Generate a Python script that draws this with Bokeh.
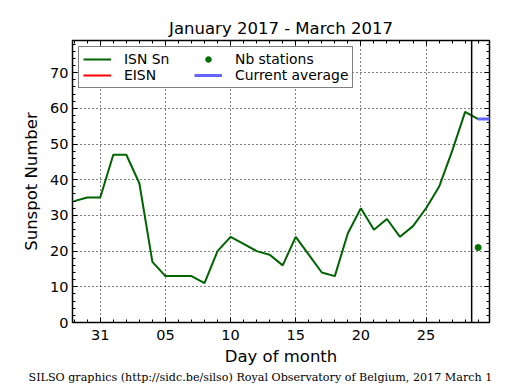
from bokeh.plotting import figure
from bokeh.models import (FixedTicker, LinearAxis, Span, Legend, LegendItem, Title, Range1d)
from bokeh.embed import file_html
from bokeh.resources import INLINE

nan = float("nan")

# Data: x = days after 31 January 2017
days = [-2, -1, 0, 1, 2, 3, 4, 5, 6, 7, 8, 9, 10, 11, 12, 13, 14, 15, 16,
        17, 18, 19, 20, 21, 22, 23, 24, 25, 26, 27, 28, 29]
isn_sn = [34, 35, 35, 47, 47, 39, 17, 13, 13, 13, 11, 20, 24, 22, 20, 19, 16,
          24, 19, 14, 13, 25, 32, 26, 29, 24, 27, 32, 38, 48, 59, 57]
eisn_days = [29]
eisn_vals = [nan]
nb_days = [29]
nb_stations = [21]
avg_days = [29, 30]
current_average = [57, 57]
today_marker = 28.5

x_major = [0, 5, 10, 15, 20, 25]
x_labels = ["31", "05", "10", "15", "20", "25"]
x_minor = [-2, -1, 0, 1, 2, 3, 4, 5, 6, 7, 8, 9, 10, 11, 12, 13, 14, 15, 16,
           17, 18, 19, 20, 21, 22, 23, 24, 25, 26, 27, 28, 29]
y_major = [0, 10, 20, 30, 40, 50, 60, 70]
y_minor = [0, 2, 4, 6, 8, 10, 12, 14, 16, 18, 20, 22, 24, 26, 28, 30, 32, 34,
           36, 38, 40, 42, 44, 46, 48, 50, 52, 54, 56, 58, 60, 62, 64, 66, 68,
           70, 72, 74, 76, 78]

FONT = "DejaVu Sans"

p = figure(width=507, height=383, output_backend="svg", toolbar_location=None,
           x_range=Range1d(-2.13, 29.87), y_range=Range1d(0, 79),
           min_border_left=72, min_border_right=18, min_border_top=40,
           min_border_bottom=40, x_axis_location=None, y_axis_location=None)
p.background_fill_color = "white"
p.border_fill_color = "white"
p.outline_line_color = "black"
p.outline_line_width = 1.5

p.title.text = "January 2017 - March 2017"
p.title.align = "center"
p.title.text_font = FONT
p.title.text_font_size = "16.5px"
p.title.text_font_style = "normal"
p.title.text_color = "black"
p.title.standoff = 5

xt = FixedTicker(ticks=x_major, minor_ticks=x_minor)
yt = FixedTicker(ticks=y_major, minor_ticks=y_minor)


def style_axis(ax, show_labels):
    ax.axis_line_color = None
    ax.major_tick_in = 5
    ax.major_tick_out = 0
    ax.minor_tick_in = 3
    ax.minor_tick_out = 0
    ax.major_tick_line_color = "black"
    ax.minor_tick_line_color = "black"
    ax.major_tick_line_width = 1
    ax.minor_tick_line_width = 1
    ax.major_label_text_font = FONT
    if show_labels:
        ax.major_label_text_color = "black"
        ax.major_label_text_font_size = "14.5px"
        ax.major_label_standoff = 4
        ax.axis_label_text_font = FONT
        ax.axis_label_text_font_size = "16.5px"
        ax.axis_label_text_font_style = "normal"
        ax.axis_label_text_color = "black"
    else:
        ax.major_label_text_color = None
        ax.major_label_text_font_size = "0px"
        ax.major_label_standoff = 0


xb = LinearAxis(ticker=xt, axis_label="Day of month",
                major_label_overrides=dict(zip(x_major, x_labels)))
style_axis(xb, True)
xb.major_label_standoff = 7
xb.axis_label_standoff = 4
p.add_layout(xb, "below")
xtop = LinearAxis(ticker=xt)
style_axis(xtop, False)
p.add_layout(xtop, "above")
yl = LinearAxis(ticker=yt, axis_label="Sunspot Number")
style_axis(yl, True)
yl.axis_label_standoff = 6
p.add_layout(yl, "left")
yr = LinearAxis(ticker=yt)
style_axis(yr, False)
p.add_layout(yr, "right")

p.xgrid.ticker = xt
p.ygrid.ticker = yt
for g in (p.xgrid, p.ygrid):
    g.grid_line_color = "black"
    g.grid_line_dash = "1 3"
    g.grid_line_width = 1

r_isn = p.line(days, isn_sn, line_color="#006400", line_width=2)
r_eisn = p.line(eisn_days, eisn_vals, line_color="red", line_width=2)
r_nb = p.scatter(nb_days, nb_stations, marker="circle", size=6,
                 fill_color="#007000", line_color="#007000")
r_avg = p.line(avg_days, current_average, line_color="#6464ff", line_width=3)

p.add_layout(Span(location=today_marker, dimension="height",
                  line_color="black", line_width=1.5))

legend = Legend(items=[
    LegendItem(label="ISN Sn", renderers=[r_isn]),
    LegendItem(label="EISN", renderers=[r_eisn]),
    LegendItem(label="Nb stations", renderers=[r_nb]),
    LegendItem(label="Current average", renderers=[r_avg]),
], location="top_left", orientation="vertical", nrows=2)
legend.margin = 6
legend.padding = 4
legend.spacing = 0
legend.glyph_width = 28
legend.glyph_height = 14
legend.label_height = 14
legend.label_width = 70
legend.label_standoff = 13
legend.label_text_font = FONT
legend.label_text_font_size = "13.9px"
legend.label_text_color = "black"
legend.border_line_color = "black"
legend.border_line_width = 1
legend.background_fill_color = "white"
legend.background_fill_alpha = 1
p.add_layout(legend, "center")

footer = Title(text="SILSO graphics (http://sidc.be/silso) Royal Observatory of Belgium, 2017 March 1",
               align="left", offset=-44, text_font="DejaVu Serif",
               text_font_size="11.15px", text_font_style="normal", text_color="black",
               standoff=0)
p.add_layout(footer, "below")

open("out.html", "w").write(file_html(p, INLINE))
